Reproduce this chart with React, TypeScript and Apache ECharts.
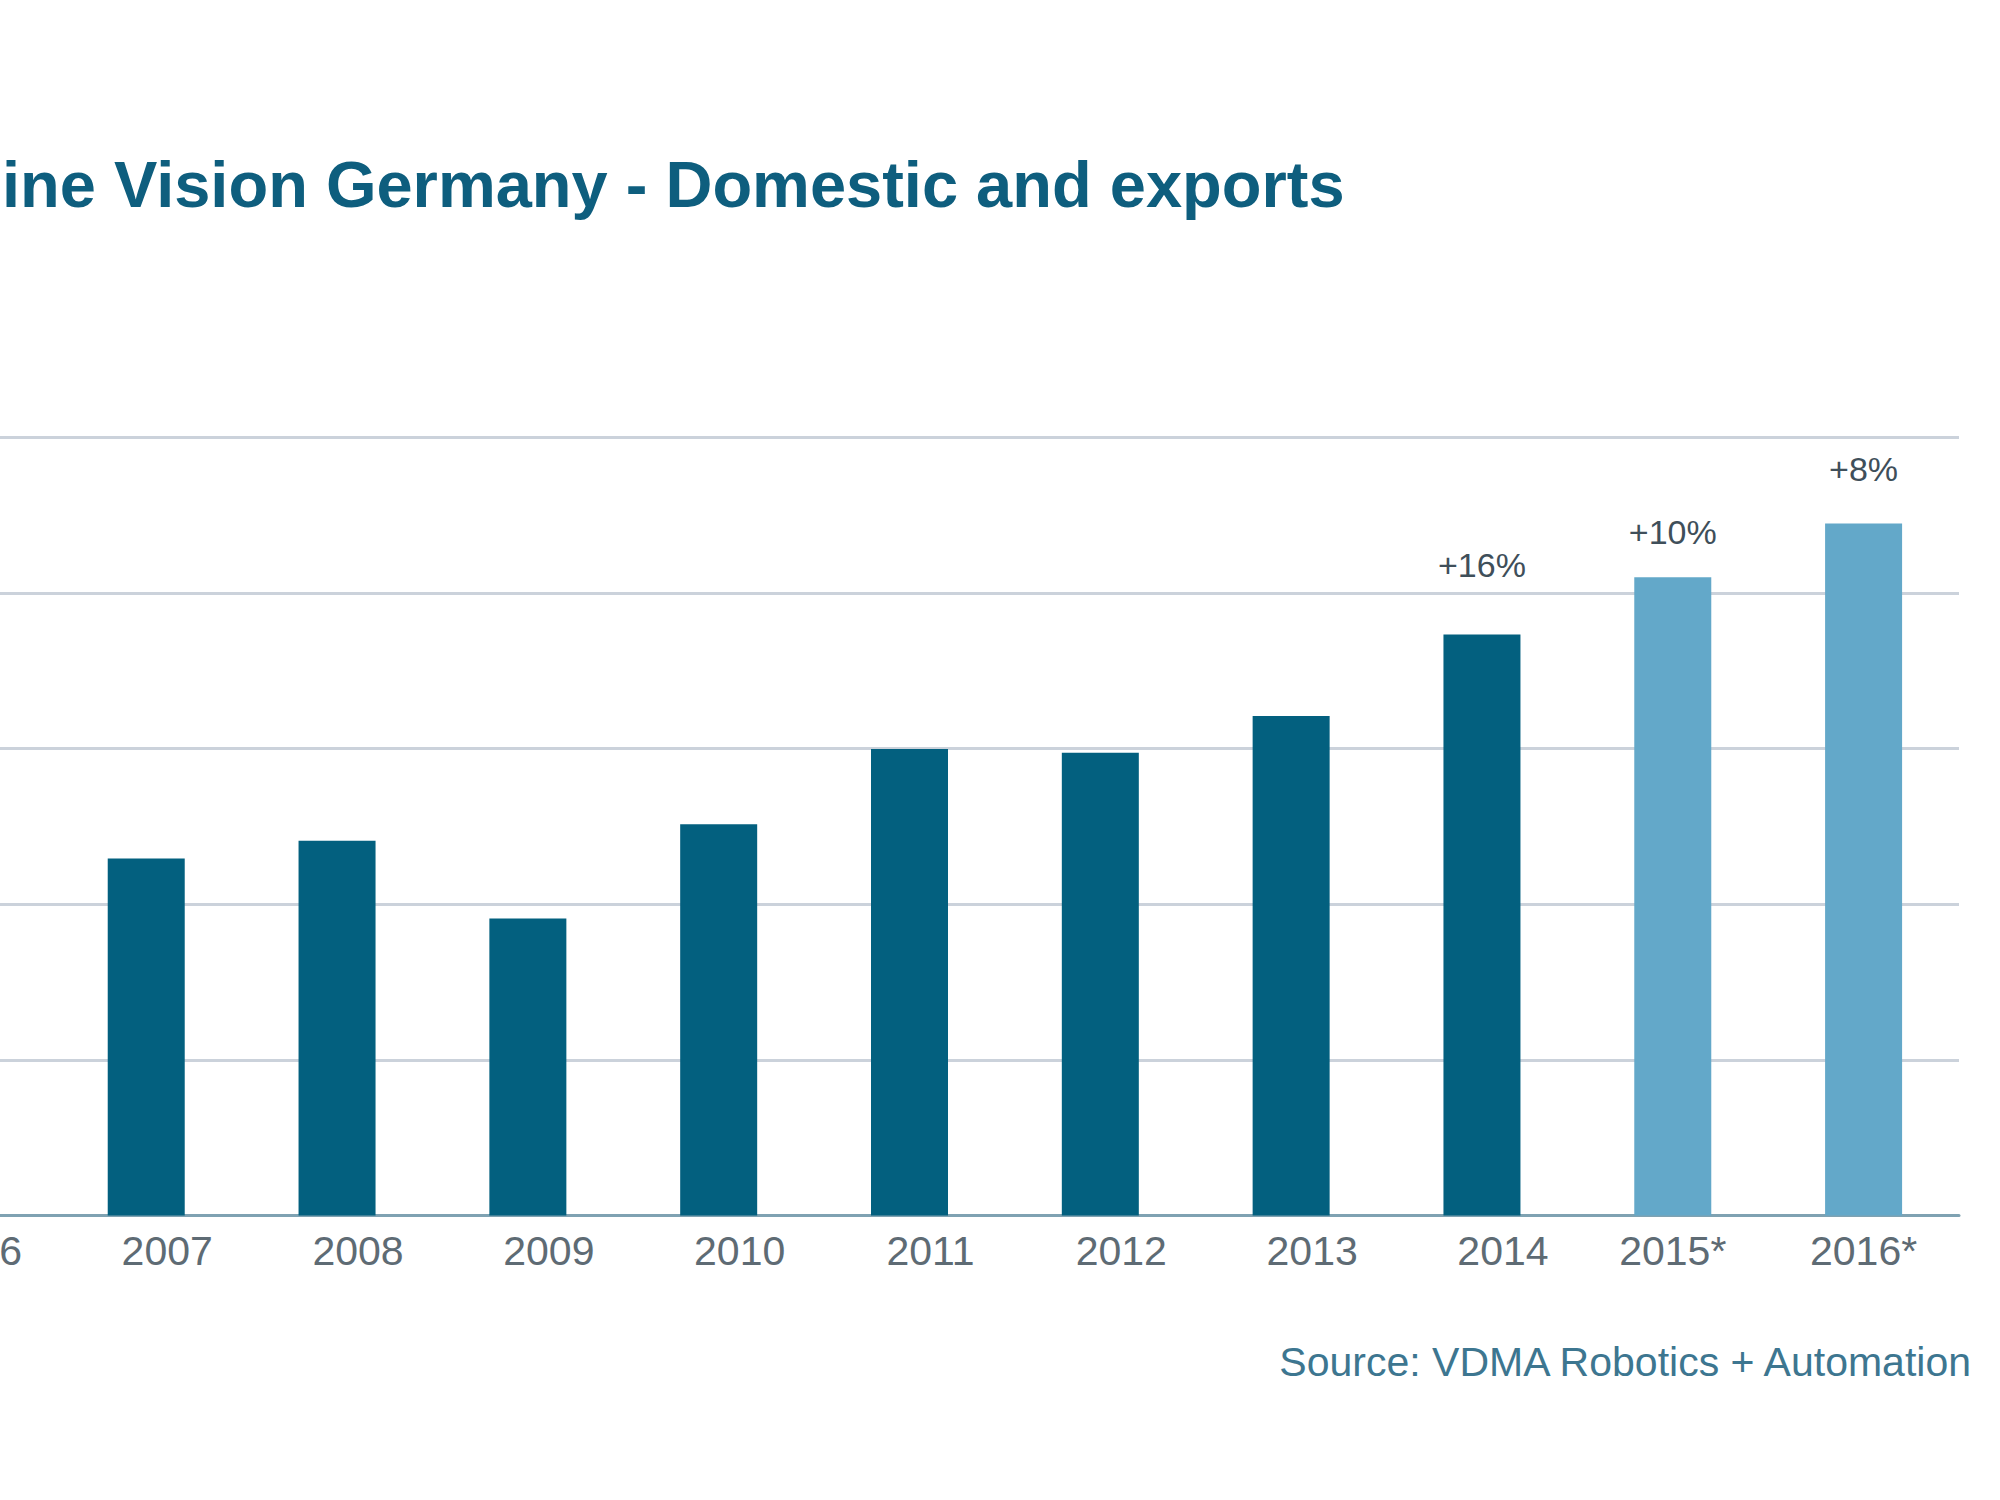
import React, { useEffect, useRef } from "react";
import * as echarts from "echarts";

const categories = ["2006", "2007", "2008", "2009", "2010", "2011", "2012", "2013", "2014", "2015*", "2016*"];
const values = [1050, 1147, 1204, 954, 1257, 1499, 1487, 1605, 1867, 2051, 2224];
const growthLabels = ["", "", "", "", "", "", "", "", "+16%", "+10%", "+8%"];
const yTicks = [0, 500, 1000, 1500, 2000, 2500];

const TITLE = "ine Vision Germany - Domestic and exports";
const SOURCE = "Source: VDMA Robotics + Automation";

const DARK = "#03607f";
const LIGHT = "#63a8c9";

// chart canvas extends past the left edge of the page (the picture is a crop)
const SHIFT = 140;

export default function App() {
  const ref = useRef<HTMLDivElement>(null);
  useEffect(() => {
    if (!ref.current) return;
    const chart = echarts.init(ref.current, null, { renderer: "svg" });
    const lift: Record<number, number> = { 8: 52, 9: 28, 10: 37 };
    const font = "Liberation Sans, Arial, sans-serif";
    const option = {
      animation: false,
      backgroundColor: "#ffffff",
      grid: { left: 0, right: 41, top: 437.5, bottom: 284.5, containLabel: false },
      xAxis: {
        type: "category",
        data: categories,
        axisLine: { show: true, lineStyle: { color: "#7fa2b2", width: 3 } },
        axisTick: { show: false },
        axisLabel: {
          margin: 15,
          formatter: (v: string) => (v.endsWith("*") ? `{s|${v}}` : `{n|${v}}`),
          rich: {
            n: { fontSize: 41, color: "#5e6b74", fontFamily: font, padding: [0, 0, 0, 42] },
            s: { fontSize: 41, color: "#5e6b74", fontFamily: font },
          },
        },
      },
      yAxis: {
        type: "value",
        min: yTicks[0],
        max: yTicks[yTicks.length - 1],
        interval: yTicks[1] - yTicks[0],
        axisLine: { show: false },
        axisTick: { show: false },
        axisLabel: { show: false },
        splitLine: { show: true, lineStyle: { color: "#cbd2db", width: 3 } },
      },
      series: [
        {
          type: "bar",
          barWidth: 77,
          data: values.map((v, i) => ({
            value: v,
            itemStyle: { color: categories[i].endsWith("*") ? LIGHT : DARK },
            label: {
              show: growthLabels[i] !== "",
              position: "top",
              distance: lift[i] ?? 20,
              formatter: growthLabels[i],
              fontSize: 34,
              color: "#3f4f5a",
              fontFamily: font,
            },
          })),
        },
      ],
      graphic: [
        {
          type: "text",
          x: SHIFT + 2,
          y: 184,
          style: {
            text: TITLE,
            fontSize: 65,
            fontWeight: "bold",
            fill: "#0e5e7e",
            fontFamily: font,
            textAlign: "left",
            textVerticalAlign: "middle",
          },
        },
        {
          type: "text",
          x: SHIFT + 1971,
          y: 1362,
          style: {
            text: SOURCE,
            fontSize: 41,
            fill: "#3d7690",
            fontFamily: font,
            textAlign: "right",
            textVerticalAlign: "middle",
          },
        },
      ],
    };
    chart.setOption(option as any);
    return () => chart.dispose();
  }, []);
  return (
    <div
      ref={ref}
      style={{ position: "absolute", left: -SHIFT, top: 0, width: 2000 + SHIFT, height: 1500 }}
    />
  );
}
